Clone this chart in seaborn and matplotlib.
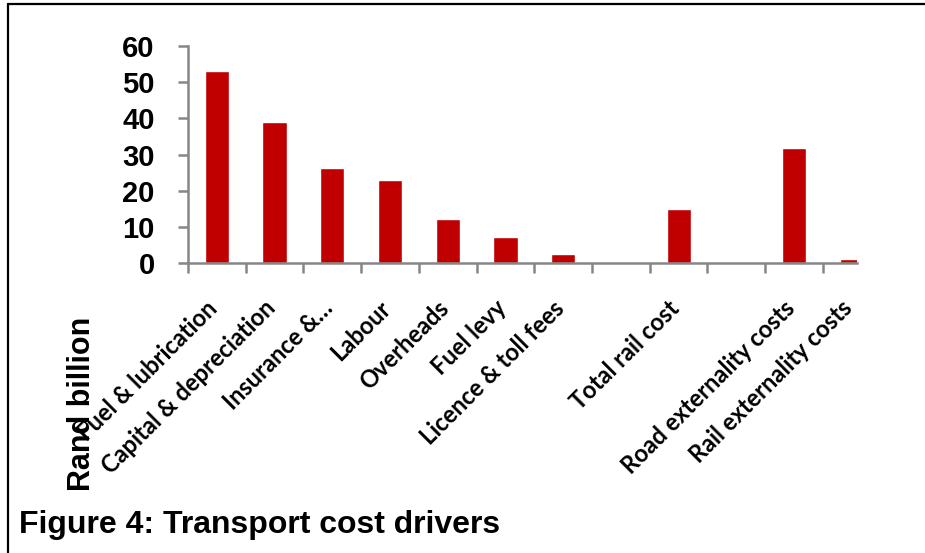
import matplotlib
matplotlib.use("Agg")
import matplotlib.pyplot as plt
import matplotlib.transforms as mtransforms
from matplotlib.lines import Line2D
import pandas as pd
import seaborn as sns

# Cost drivers (Rand billion); two empty slots separate the groups
categories = [
    "Fuel & lubrication", "Capital & depreciation", "Insurance &…", "Labour",
    "Overheads", "Fuel levy", "Licence & toll fees", "", "Total rail cost",
    " ", "Road externality costs", "Rail externality costs",
]
values = [53.0, 39.0, 26.3, 23.0, 12.1, 7.1, 2.5, None, 14.8, None, 31.9, 1.1]
y_ticks = [0, 10, 20, 30, 40, 50, 60]

sns.set_style("white")
plt.rcParams["font.family"] = ["Liberation Sans", "DejaVu Sans"]
plt.rcParams["text.color"] = "black"
plt.rcParams["axes.labelcolor"] = "black"
plt.rcParams["xtick.labelcolor"] = "black"
plt.rcParams["ytick.labelcolor"] = "black"

W, H = 925, 553
fig = plt.figure(figsize=(W / 100, H / 100), dpi=100)
ax = fig.add_axes([188 / W, 1 - 263 / H, 669 / W, 217 / H])

df = pd.DataFrame({"category": categories, "value": values}).dropna()
sns.barplot(data=df, x="category", y="value", order=categories,
            color="#C00000", saturation=1, width=0.42, ax=ax)

axis_grey = "#868686"
ax.set_xlim(-0.5, 11.09)
ax.set_ylim(0, 60)
ax.set_yticks(y_ticks)
ax.set_yticklabels([str(t) for t in y_ticks], fontsize=21, fontweight="bold")

for side in ("top", "right"):
    ax.spines[side].set_visible(False)
for side in ("left", "bottom"):
    ax.spines[side].set_color(axis_grey)
    ax.spines[side].set_linewidth(1.8)

# tick marks sit between categories, labels at the category centres
ax.set_xticks([i - 0.5 for i in range(len(categories))])
ax.set_xticklabels([""] * len(categories))
ax.set_xticks(range(len(categories)), minor=True)
ax.set_xticklabels(categories, minor=True, rotation=45, ha="right",
                   fontsize=17, family="Lato", fontweight="bold", color="black")
ax.tick_params(axis="x", which="major", direction="out", length=7,
               width=1.8, color=axis_grey, bottom=True)
ax.tick_params(axis="x", which="minor", length=0, pad=24, bottom=True)
ax.tick_params(axis="y", direction="out", length=7, width=1.8,
               color=axis_grey, pad=17, left=True)

shift = mtransforms.ScaledTranslation(5 / 100, 0, fig.dpi_scale_trans)
for lab in ax.get_xticklabels(minor=True):
    lab.set_transform(lab.get_transform() + shift)

ax.set_xlabel("")
ax.set_ylabel("Rand billion", fontsize=22, fontweight="bold", color="black")
ax.yaxis.set_label_coords((97 - 188) / 669, (263 - 404) / 217)

fig.text(19 / W, 1 - 525 / H, "Figure 4: Transport cost drivers",
         fontsize=23, fontweight="bold", va="center", ha="left", color="black")

# frame lines along the top and left edge
fig.add_artist(Line2D([8 / W, 8 / W], [0, 1 - 4 / H], color="black",
                      lw=1.6, transform=fig.transFigure))
fig.add_artist(Line2D([8 / W, 1], [1 - 4 / H, 1 - 4 / H], color="black",
                      lw=1.6, transform=fig.transFigure))

fig.savefig("out.png", dpi=100)
